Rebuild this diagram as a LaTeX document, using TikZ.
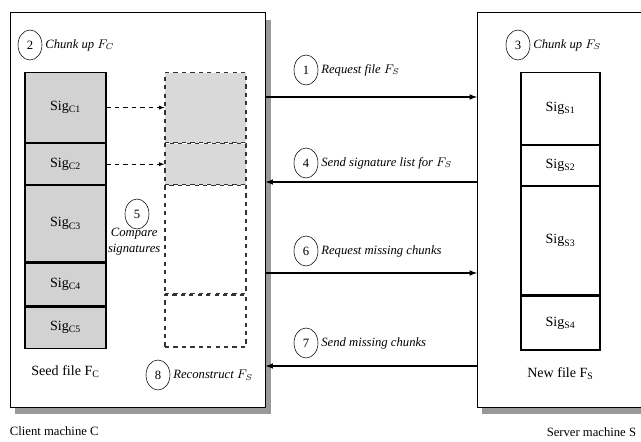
\documentclass[tikz,border=0pt]{standalone}
\usepackage{fontspec}
\setmainfont{Liberation Serif}
\usetikzlibrary{positioning,shapes.geometric}

\tikzset{
  machine/.style={draw, fill=white, anchor=north west, minimum height=9.875cm, inner sep=0pt},
  shadowbox/.style={fill=black!40, anchor=north west, minimum height=9.85cm, inner sep=0pt},
  num/.style={ellipse, draw, inner sep=0pt, minimum width=0.6cm, minimum height=0.75cm, font=\small},
  lbl/.style={font=\small\itshape, inner sep=1pt},
  seedchunk/.style={draw, thick, fill=gray!35, minimum width=2.025cm, minimum height=#1, inner sep=0pt},
  newchunk/.style={draw, thick, fill=white, minimum width=1.975cm, minimum height=#1, inner sep=0pt},
  slot/.style={draw=black!80, thick, dashed, minimum width=2.025cm, minimum height=#1, inner sep=0pt},
  msg/.style={thick, -latex},
}

\begin{document}
\begin{tikzpicture}[x=0.025cm, y=-0.025cm]
  \useasboundingbox (0,0) rectangle (641,442);

  % shadows behind the machines
  \node[shadowbox, minimum width=6.4cm] (cshadow) at (15,20) {};
  \node[shadowbox, minimum width=5cm]   (sshadow) at (482,20) {};

  % machines
  \node[machine, minimum width=6.375cm] (client) at (10,12) {};
  \node[machine, minimum width=5cm]     (server) at (477,12) {};
  \node[anchor=west, font=\small]  (cname) at (5,431)   {Client machine C};
  \node[anchor=east, font=\small]  (sname) at (641,432) {Server machine S};

  % seed file on the client
  \node[seedchunk=1.75cm, anchor=north] (c1) at (65.5,72) {Sig\textsubscript{C1}};
  \node[seedchunk=1.025cm, below=0pt of c1] (c2) {Sig\textsubscript{C2}};
  \node[seedchunk=1.9cm,   below=0pt of c2] (c3) {Sig\textsubscript{C3}};
  \node[seedchunk=1.075cm, below=0pt of c3] (c4) {Sig\textsubscript{C4}};
  \node[seedchunk=1.025cm, below=0pt of c4] (c5) {Sig\textsubscript{C5}};
  \node[below=0.3cm of c5] (seed) {Seed file F\textsubscript{C}};

  % file being rebuilt
  \node[slot=1.75cm, fill=gray!30, anchor=north] (d1) at (205.5,72) {};
  \node[slot=1.025cm, fill=gray!30, below=0pt of d1] (d2) {};
  \node[slot=2.7cm,  below=0pt of d2] (d3) {};
  \node[slot=1.3cm,  below=0pt of d3] (d4) {};

  \draw[dashed, -latex] (c1.east) -- (c1.east -| d1.west);
  \draw[dashed, -latex] (c2.east) -- (c2.east -| d2.west);

  % new file on the server
  \node[newchunk=1.8cm, anchor=north] (s1) at (560.5,72) {Sig\textsubscript{S1}};
  \node[newchunk=1cm,    below=0pt of s1] (s2) {Sig\textsubscript{S2}};
  \node[newchunk=2.7cm,  below=0pt of s2] (s3) {Sig\textsubscript{S3}};
  \node[newchunk=1.35cm, below=0pt of s3] (s4) {Sig\textsubscript{S4}};
  \node[below=0.3cm of s4] (newf) {New file F\textsubscript{S}};

  % steps
  \node[num] (n2) at (30,45) {2};
  \node[lbl, right=1pt of n2] {Chunk up $F_C$};
  \node[num] (n3) at (518,45) {3};
  \node[lbl, right=1pt of n3] {Chunk up $F_S$};
  \node[num] (n5) at (137,214) {5};
  \node[lbl, align=center, below=-2pt of n5, xshift=-2pt] (cmp) {Compare\\signatures};
  \node[num] (n8) at (158,375) {8};
  \node[lbl, right=1pt of n8] {Reconstruct $F_S$};

  \node[num] (n1) at (306,70) {1};
  \node[lbl, right=1pt of n1] {Request file $F_S$};
  \node[num] (n4) at (306,163) {4};
  \node[lbl, right=1pt of n4] {Send signature list for $F_S$};
  \node[num] (n6) at (306,251) {6};
  \node[lbl, right=1pt of n6] {Request missing chunks};
  \node[num] (n7) at (306,343) {7};
  \node[lbl, right=1pt of n7] {Send missing chunks};

  % messages
  \coordinate (y1) at (0,97);
  \coordinate (y4) at (0,182);
  \coordinate (y6) at (0,273);
  \coordinate (y7) at (0,366);
  \draw[msg] (client.east |- y1) -- (server.west |- y1);
  \draw[msg] (server.west |- y4) -- (client.east |- y4);
  \draw[msg] (client.east |- y6) -- (server.west |- y6);
  \draw[msg] (server.west |- y7) -- (client.east |- y7);
\end{tikzpicture}
\end{document}
